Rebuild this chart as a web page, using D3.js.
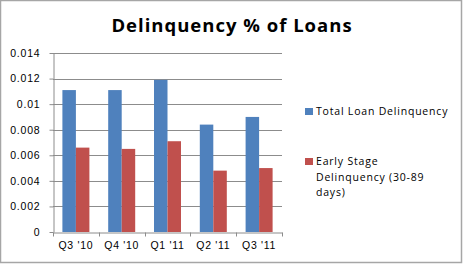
<!DOCTYPE html>
<html>
<head>
<meta charset="utf-8">
<script src="https://cdn.jsdelivr.net/npm/d3@7"></script>
<style>
  body { margin: 0; background: #fff; }
  svg { display: block; font-family: "Open Sans", Lato, sans-serif; }
  .tick text { fill: #000; }
</style>
</head>
<body>
<svg id="chart" width="464" height="265"></svg>
<script>
const quarters = ["Q3 '10", "Q4 '10", "Q1 '11", "Q2 '11", "Q3 '11"];
const totalDelinquency = [0.0111, 0.0111, 0.0119, 0.0084, 0.0090];
const earlyDelinquency = [0.0066, 0.0065, 0.0071, 0.0048, 0.0050];
const seriesColors = ["#4F81BD", "#C0504D"];
const yTicks = [0, 0.002, 0.004, 0.006, 0.008, 0.01, 0.012, 0.014];

const MARGIN = { top: 53, left: 53, right: 182, bottom: 33 };
const W = 464, H = 265;

const svg = d3.select('#chart');

// outer frame
svg.append('rect')
  .attr('x', 0.5).attr('y', 0.5)
  .attr('width', 461).attr('height', 262)
  .attr('fill', '#fff')
  .attr('stroke', '#a6a6a6')
  .attr('stroke-width', 1.5);

svg.append('text')
  .attr('x', 232).attr('y', 32)
  .attr('text-anchor', 'middle')
  .attr('font-size', 18.5)
  .attr('font-weight', 'bold')
  .attr('letter-spacing', 1)
  .text('Delinquency % of Loans');

const xScale = d3.scaleBand()
  .domain(quarters)
  .range([MARGIN.left, W - MARGIN.right]);

const seriesScale = d3.scaleBand()
  .domain([0, 1])
  .range([0, 27]);

const yScale = d3.scaleLinear()
  .domain([0, 0.014])
  .range([H - MARGIN.bottom, MARGIN.top]);

// gridlines
svg.append('g')
  .selectAll('line')
  .data(yTicks.slice(1))
  .join('line')
  .attr('x1', MARGIN.left).attr('x2', W - MARGIN.right)
  .attr('y1', d => Math.round(yScale(d)) + 0.5)
  .attr('y2', d => Math.round(yScale(d)) + 0.5)
  .attr('stroke', '#8c8c8c');

// bars
const groups = svg.append('g')
  .selectAll('g')
  .data(quarters)
  .join('g')
  .attr('transform', d => `translate(${xScale(d) + xScale.bandwidth() / 2 - 13.5},0)`);

groups.selectAll('rect')
  .data((d, i) => [totalDelinquency[i], earlyDelinquency[i]])
  .join('rect')
  .attr('x', (d, j) => seriesScale(j))
  .attr('width', seriesScale.bandwidth())
  .attr('y', d => yScale(d))
  .attr('height', d => yScale(0) - yScale(d))
  .attr('fill', (d, j) => seriesColors[j]);

// axes
const yAxis = svg.append('g')
  .attr('transform', `translate(${MARGIN.left + 0.5},0)`)
  .call(d3.axisLeft(yScale).tickValues(yTicks).tickFormat(d => d3.format('')(+d.toFixed(3))).tickSize(4).tickPadding(9).tickSizeOuter(0));
yAxis.selectAll('line, path').attr('stroke', '#8c8c8c');
yAxis.selectAll('text').attr('font-size', 10.5).attr('letter-spacing', 0.8);

const xAxis = svg.append('g')
  .attr('transform', `translate(0,${yScale(0) + 0.5})`)
  .call(d3.axisBottom(xScale).tickSize(0).tickPadding(9));
xAxis.select('.domain').attr('stroke', '#8c8c8c');
xAxis.selectAll('text').attr('font-size', 10.5).attr('letter-spacing', 0.7);

// category boundary ticks
xAxis.selectAll('.sep')
  .data(d3.range(quarters.length + 1))
  .join('line')
  .attr('class', 'sep')
  .attr('x1', i => Math.round(MARGIN.left + i * xScale.step()) + 0.5)
  .attr('x2', i => Math.round(MARGIN.left + i * xScale.step()) + 0.5)
  .attr('y1', 0).attr('y2', 4)
  .attr('stroke', '#8c8c8c');

// legend
const legendLines = [["Total Loan Delinquency"], ["Early Stage", "Delinquency (30-89", "days)"]];
const legendY = [110, 160];
const legend = svg.append('g').attr('transform', 'translate(305,0)');
legendLines.forEach((lines, i) => {
  legend.append('rect')
    .attr('x', 0).attr('y', legendY[i] - 2)
    .attr('width', 8).attr('height', 7)
    .attr('fill', seriesColors[i]);
  const t = legend.append('text')
    .attr('x', 11).attr('y', legendY[i] + 5)
    .attr('font-size', 10.5)
    .attr('letter-spacing', 0.8);
  lines.forEach((l, k) => {
    t.append('tspan').attr('x', 11).attr('dy', k ? 15.6 : 0).text(l);
  });
});
</script>
</body>
</html>
